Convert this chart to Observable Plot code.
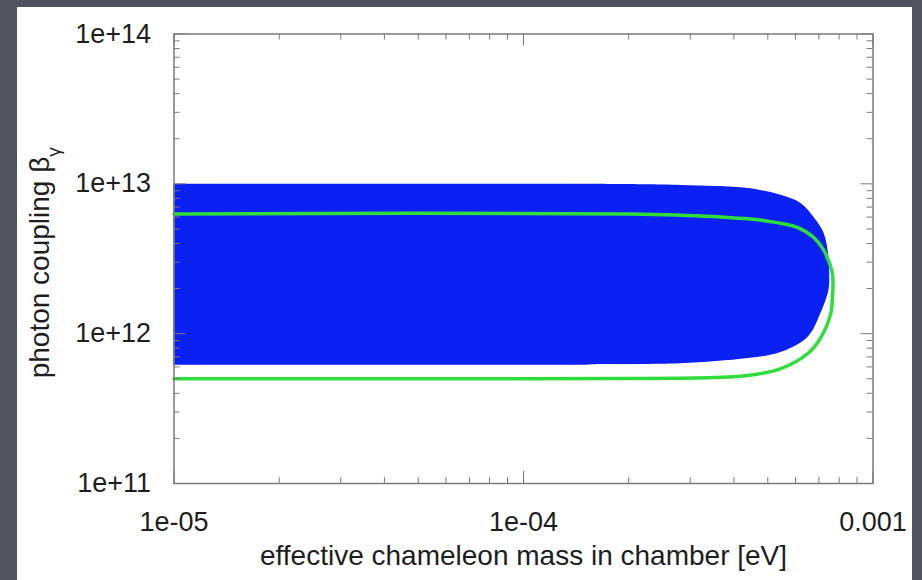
<!DOCTYPE html>
<html>
<head>
<meta charset="utf-8">
<script src="https://cdn.jsdelivr.net/npm/d3@7"></script>
<script src="https://cdn.jsdelivr.net/npm/@observablehq/plot@0.6"></script>
<style>
  html, body { margin: 0; padding: 0; }
  body { width: 922px; height: 580px; background: #50545c; position: relative; overflow: hidden; }
  #panel { position: absolute; left: 17px; top: 7px; width: 895px; height: 573px; background: #ffffff; }
  #chart { position: absolute; left: 0; top: 0; }
</style>
</head>
<body>
<div id="panel"></div>
<div id="chart"></div>
<script>
// ---- data ----
const xDomain = [1e-5, 1e-3];
const yDomain = [1e11, 1e14];
const xMajor = [1e-5, 1e-4, 1e-3];
const xTickLabels = ["1e-05", "1e-04", "0.001"];
const yMajor = [1e11, 1e12, 1e13, 1e14];
const yTickLabels = ["1e+11", "1e+12", "1e+13", "1e+14"];
const mantissas = [2, 3, 4, 5, 6, 7, 8, 9];
const xMinor = [1e-5, 1e-4].flatMap(e => mantissas.map(m => m * e));
const yMinor = [1e11, 1e12, 1e13].flatMap(e => mantissas.map(m => m * e));

const xTitle = "effective chameleon mass in chamber [eV]";
const yTitle = "photon coupling β";
const yTitleSub = "γ";

// excluded (blue) region: right boundary mass vs coupling
const blueCoupling = [6.15e11, 6.22e11, 6.31e11, 6.82e11, 7.48e11, 9.42e11, 1.36e12, 1.94e12, 2.45e12, 3.24e12, 4.69e12, 5.99e12, 7.40e12, 8.38e12, 9.31e12, 9.75e12, 9.92e12];
const blueMass     = [1.5e-4, 1.66e-4, 2.82e-4, 4.39e-4, 5.45e-4, 6.51e-4, 7.09e-4, 7.48e-4, 7.52e-4, 7.48e-4, 7.24e-4, 6.77e-4, 6.22e-4, 5.45e-4, 4.39e-4, 2.82e-4, 1.5e-4];

// green contour
const greenMass     = [1e-5, 2.0e-4, 3.5e-4, 4.87e-4, 6.10e-4, 6.77e-4, 7.24e-4, 7.62e-4, 7.68e-4, 7.66e-4, 7.57e-4, 7.09e-4, 6.51e-4, 5.45e-4, 4.39e-4, 3.5e-4, 2.0e-4, 1e-5];
const greenCoupling = [6.3e12, 6.3e12, 6.05e12, 5.69e12, 5.11e12, 4.38e12, 3.59e12, 2.64e12, 2.26e12, 1.80e12, 1.36e12, 9.42e11, 7.37e11, 5.85e11, 5.26e11, 5.10e11, 5.02e11, 5.0e11];

const blueData = blueCoupling.map((y, i) => ({y, x: blueMass[i]}));
const greenData = greenCoupling.map((y, i) => ({y, x: greenMass[i]}));

const tickColor = "#7a7a7a";
const textColor = "#1e1e1e";

const W = 922, H = 580, mL = 173.5, mR = 49.5, mT = 33.5, mB = 97;
const fw = W - mL - mR, fh = H - mT - mB;
const majorLen = 12, minorLen = 6;

// inward ticks on all four sides (gnuplot style)
const tickMarks = [
  Plot.tickX(xMajor, {x: d => d, insetTop: fh - majorLen, stroke: tickColor}),
  Plot.tickX(xMinor, {x: d => d, insetTop: fh - minorLen, stroke: tickColor}),
  Plot.tickX(xMajor, {x: d => d, insetBottom: fh - majorLen, stroke: tickColor}),
  Plot.tickX(xMinor, {x: d => d, insetBottom: fh - minorLen, stroke: tickColor}),
  Plot.tickY(yMajor, {y: d => d, insetRight: fw - majorLen, stroke: tickColor}),
  Plot.tickY(yMinor, {y: d => d, insetRight: fw - minorLen, stroke: tickColor}),
  Plot.tickY(yMajor, {y: d => d, insetLeft: fw - majorLen, stroke: tickColor}),
  Plot.tickY(yMinor, {y: d => d, insetLeft: fw - minorLen, stroke: tickColor})
];

const chart = Plot.plot({
  width: W,
  height: H,
  marginLeft: mL,
  marginRight: mR,
  marginTop: mT,
  marginBottom: mB,
  style: {background: "transparent", fontFamily: "'Liberation Sans', Arial, sans-serif", fontSize: "27px", color: textColor},
  x: {type: "log", domain: xDomain, label: null},
  y: {type: "log", domain: yDomain, label: null},
  marks: [
    Plot.areaX(blueData, {y: "y", x1: xDomain[0], x2: "x", fill: "#0b20f2", curve: "catmull-rom"}),
    Plot.line(greenData, {x: "x", y: "y", stroke: "#30dd3a", strokeWidth: 3.5, curve: "catmull-rom"}),
    ...tickMarks,
    Plot.frame({stroke: tickColor, strokeWidth: 1.5}),
    Plot.axisX(xMajor, {anchor: "bottom", tickSize: 0, tickPadding: 28, fontSize: 27, tickFormat: d => xTickLabels[xMajor.indexOf(d)], label: null}),
    Plot.axisY(yMajor, {anchor: "left", tickSize: 0, tickPadding: 23, fontSize: 27, tickFormat: d => yTickLabels[yMajor.indexOf(d)], label: null}),
    Plot.text([xTitle], {frameAnchor: "bottom", textAnchor: "middle", dy: 81, fontSize: 28, fill: textColor}),
    Plot.text([yTitle], {frameAnchor: "left", textAnchor: "middle", dx: -134, dy: 4, rotate: -90, fontSize: 28, fill: textColor})
  ]
});

// add subscript gamma to the y title
d3.select(chart).selectAll("text").filter(function() { return this.textContent === yTitle; })
  .append("tspan").attr("baseline-shift", "sub").attr("font-size", "19px").text(yTitleSub);

document.getElementById("chart").appendChild(chart);
</script>
</body>
</html>
